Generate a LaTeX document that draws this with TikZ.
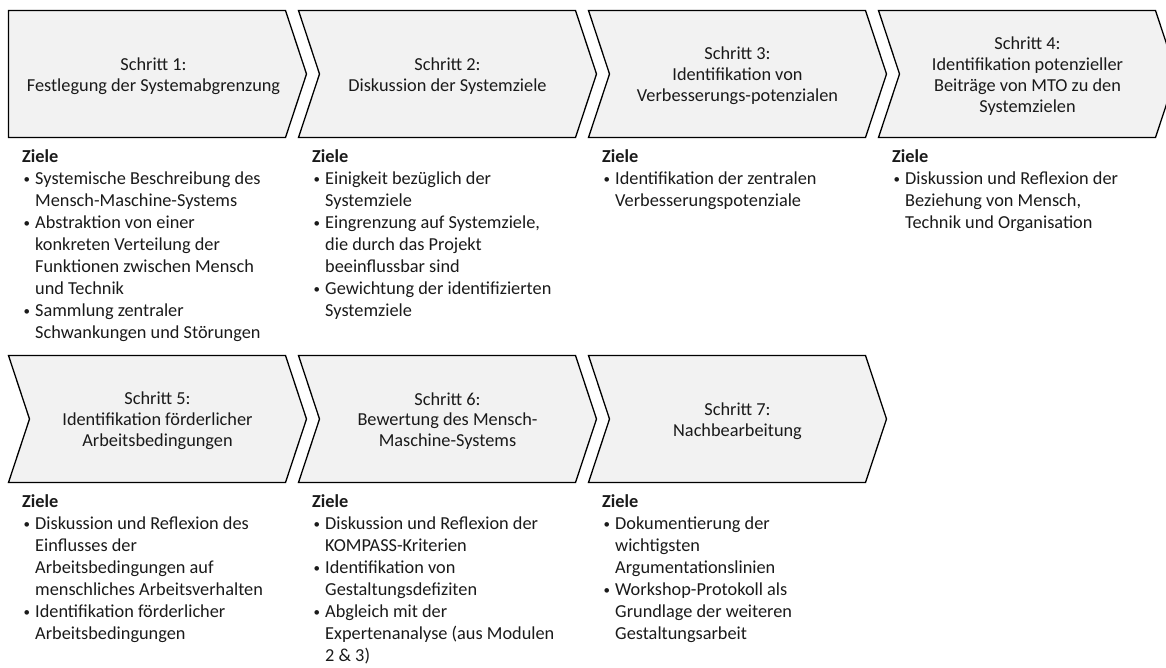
\documentclass[tikz,border=0pt]{standalone}
\usepackage{fontspec}
\setmainfont{Carlito}
\definecolor{chevgray}{HTML}{F2F2F2}
\definecolor{inkgray}{HTML}{1A1A1A}
% bullet item start and continuation indent
\newcommand\bul{\makebox[13pt][l]{\hspace*{1.5pt}\raisebox{1.3pt}{\fontsize{13}{13}\selectfont •}}}
\newcommand\cont{\hspace*{13pt}}
\tikzset{
  chev/.style={draw=black, fill=chevgray, line width=1.3pt, line join=miter},
  chevtext/.style={align=center, font=\fontsize{18.3}{20.8}\selectfont, text=inkgray, inner sep=0pt},
  goals/.style={anchor=north west, align=left, font=\fontsize{18.3}{22}\selectfont, text=inkgray, inner sep=0pt}
}
% #1 name, #2 left x, #3 top y, #4 notch (0 or 1), #5 label
\newcommand\mkchev[5]{%
  \pgfmathsetmacro\cR{#2+277}%
  \pgfmathsetmacro\cP{#2+298}%
  \pgfmathsetmacro\cB{#3+127}%
  \pgfmathsetmacro\cM{#3+63.5}%
  \pgfmathsetmacro\cN{#2+21*#4}%
  \pgfmathsetmacro\cC{#2+149-4*(1-#4)}%
  \pgfmathsetmacro\cY{#3+65.5}%
  \draw[chev] (#2,#3) -- (\cR,#3) -- (\cP,\cM) -- (\cR,\cB) -- (#2,\cB) -- (\cN,\cM) -- cycle;
  \node[chevtext] (#1) at (\cC,\cY) {#5};
}
\begin{document}
\begin{tikzpicture}[x=1pt,y=-1pt]
\useasboundingbox (0,0) rectangle (1166,668);

% ---- first row of steps
\mkchev{s1}{8.5}{10.5}{0}{Schritt 1:\\Festlegung der Systemabgrenzung}
\mkchev{s2}{298.5}{10.5}{1}{Schritt 2:\\Diskussion der Systemziele}
\mkchev{s3}{588.5}{10.5}{1}{Schritt 3:\\Identifikation von\\Verbesserungs-potenzialen}
\mkchev{s4}{878.5}{10.5}{1}{Schritt 4:\\Identifikation potenzieller\\Beiträge von MTO zu den\\Systemzielen}

% ---- second row of steps
\mkchev{s5}{8.5}{355.5}{1}{Schritt 5:\\Identifikation förderlicher\\Arbeitsbedingungen}
\mkchev{s6}{298.5}{355.5}{1}{Schritt 6:\\Bewertung des Mensch-\\Maschine-Systems}
\mkchev{s7}{588.5}{355.5}{1}{Schritt 7:\\Nachbearbeitung}

% ---- goals below each step
\node[goals] (g1) at (22,147.1) {\strut\textbf{Ziele}\\
\bul Systemische Beschreibung des\\
\cont Mensch-Maschine-Systems\\
\bul Abstraktion von einer\\
\cont konkreten Verteilung der\\
\cont Funktionen zwischen Mensch\\
\cont und Technik\\
\bul Sammlung zentraler\\
\cont Schwankungen und Störungen};

\node[goals] (g2) at (312,147.1) {\strut\textbf{Ziele}\\
\bul Einigkeit bezüglich der\\
\cont Systemziele\\
\bul Eingrenzung auf Systemziele,\\
\cont die durch das Projekt\\
\cont beeinflussbar sind\\
\bul Gewichtung der identifizierten\\
\cont Systemziele};

\node[goals] (g3) at (602,147.1) {\strut\textbf{Ziele}\\
\bul Identifikation der zentralen\\
\cont Verbesserungspotenziale};

\node[goals] (g4) at (892,147.1) {\strut\textbf{Ziele}\\
\bul Diskussion und Reflexion der\\
\cont Beziehung von Mensch,\\
\cont Technik und Organisation};

\node[goals] (g5) at (22,492.1) {\strut\textbf{Ziele}\\
\bul Diskussion und Reflexion des\\
\cont Einflusses der\\
\cont Arbeitsbedingungen auf\\
\cont menschliches Arbeitsverhalten\\
\bul Identifikation förderlicher\\
\cont Arbeitsbedingungen};

\node[goals] (g6) at (312,492.1) {\strut\textbf{Ziele}\\
\bul Diskussion und Reflexion der\\
\cont KOMPASS-Kriterien\\
\bul Identifikation von\\
\cont Gestaltungsdefiziten\\
\bul Abgleich mit der\\
\cont Expertenanalyse (aus Modulen\\
\cont 2 \& 3)};

\node[goals] (g7) at (602,492.1) {\strut\textbf{Ziele}\\
\bul Dokumentierung der\\
\cont wichtigsten\\
\cont Argumentationslinien\\
\bul Workshop-Protokoll als\\
\cont Grundlage der weiteren\\
\cont Gestaltungsarbeit};
\end{tikzpicture}
\end{document}
